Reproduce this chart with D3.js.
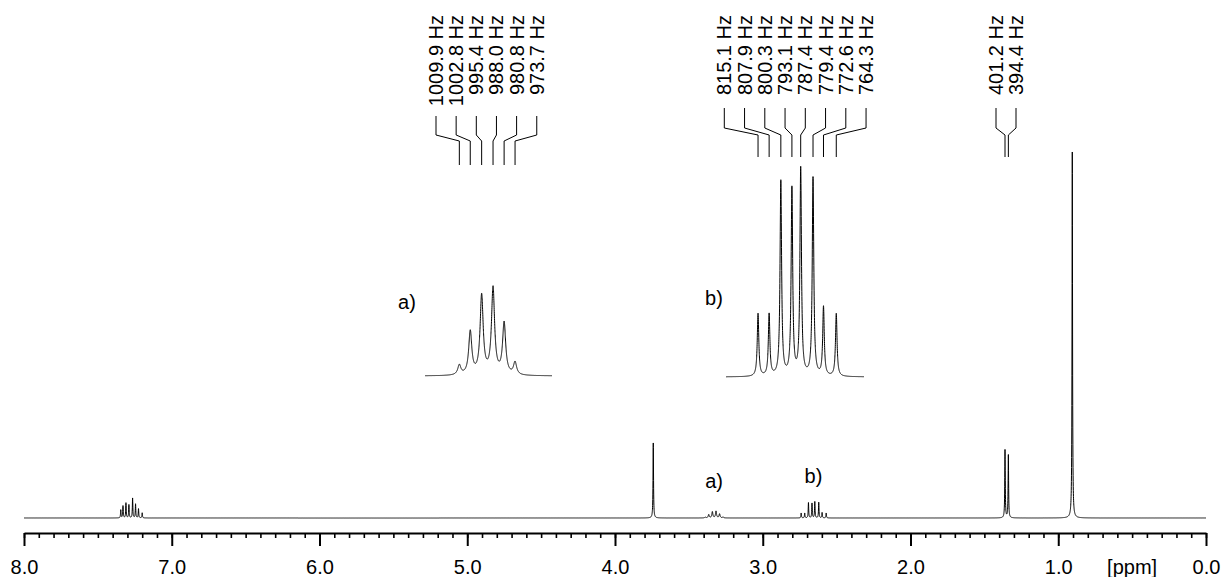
<!DOCTYPE html>
<html><head><meta charset="utf-8">
<script src="https://cdn.jsdelivr.net/npm/d3@7"></script>
<style>
body{margin:0;background:#fff;}
svg{display:block;}
text{font-family:"Liberation Sans",Arial,Helvetica,sans-serif;fill:#000;}
</style></head><body>
<svg id="c" width="1224" height="577"></svg>
<script>
// ---------------- data ----------------
const spectrometerMHz = 300;
const refOffsetPpm = 0.023;
const axisTicksMajor = [8, 7, 6, 5, 4, 3, 2, 1, 0];
const axisTickLabels = ["8.0", "7.0", "6.0", "5.0", "4.0", "3.0", "2.0", "1.0", "0.0"];
const unitLabel = "[ppm]";
const unitLabelPpm = 0.5;
const singletPpm = [3.741, 0.905];
const singletInt = [20.5, 100];
const aromaticPpm = [7.345, 7.33, 7.31, 7.29, 7.265, 7.245, 7.225, 7.20];
const aromaticInt = [2.2, 3.3, 4.1, 3.6, 5.4, 3.8, 2.5, 1.4];
const multAHz = [1009.9, 1002.8, 995.4, 988.0, 980.8, 973.7];
const multAInt = [0.21, 0.93, 1.70, 1.86, 1.11, 0.27];
const multBHz = [815.1, 807.9, 800.3, 793.1, 787.4, 779.4, 772.6, 764.3];
const multBInt = [1.35, 1.33, 4.19, 4.02, 4.45, 4.26, 1.48, 1.35];
const doubletHz = [401.2, 394.4];
const doubletInt = [18.6, 17.2];
const multLabels = ["a)", "b)"];

// ---------------- setup ----------------
const svg = d3.select("#c");
const hzToPpm = hz => hz / spectrometerMHz + refOffsetPpm;
const lor = (x, x0, a, w) => a / (1 + ((x - x0) / w) ** 2);

const x = d3.scaleLinear().domain([8, 0]).range([24, 1206]);
const y = d3.scaleLinear().domain([0, 100]).range([518, 152]);

// peak list for the full spectrum (ppm)
const peaks = [];
singletPpm.forEach((p, i) => peaks.push({c: p, a: singletInt[i], w: 0.6 / spectrometerMHz}));
aromaticPpm.forEach((p, i) => peaks.push({c: p, a: aromaticInt[i], w: 0.6 / spectrometerMHz}));
multAHz.forEach((h, i) => peaks.push({c: hzToPpm(h), a: multAInt[i], w: 1.2 / spectrometerMHz}));
multBHz.forEach((h, i) => peaks.push({c: hzToPpm(h), a: multBInt[i], w: 0.6 / spectrometerMHz}));
doubletHz.forEach((h, i) => peaks.push({c: hzToPpm(h), a: doubletInt[i], w: 0.6 / spectrometerMHz}));

const samples = d3.range(0, 8.00001, 0.0005);
peaks.forEach(p => samples.push(p.c));
samples.sort((a, b) => a - b);
const spec = samples.map(s => [s, d3.sum(peaks, p => lor(s, p.c, p.a, p.w))]);

svg.append("path")
  .attr("d", d3.line().x(d => x(d[0])).y(d => y(d[1]))(spec))
  .attr("fill", "none").attr("stroke", "#000").attr("stroke-width", 1);

// ---------------- axis ----------------
const axisY = 533;
const gMinor = svg.append("g").attr("transform", `translate(0,${axisY})`)
  .call(d3.axisBottom(x).tickValues(d3.range(0, 8.0001, 0.1)).tickSize(5).tickSizeOuter(0).tickFormat(""));
gMinor.select(".domain").attr("stroke-width", 2);
gMinor.selectAll(".tick line").attr("stroke-width", 1.6);

const gMajor = svg.append("g").attr("transform", `translate(0,${axisY})`)
  .call(d3.axisBottom(x).tickValues(axisTicksMajor).tickSize(13).tickSizeOuter(0).tickPadding(14)
    .tickFormat((d, i) => axisTickLabels[i]));
gMajor.select(".domain").remove();
gMajor.selectAll(".tick line").attr("stroke-width", 2);
gMajor.selectAll(".tick text").attr("font-size", 20)
  .style("font-family", '"Liberation Sans",Arial,sans-serif');

svg.append("text").attr("x", x(unitLabelPpm)).attr("y", axisY + 27).attr("dy", "0.71em")
  .attr("text-anchor", "middle").attr("font-size", 20).text(unitLabel);

// main multiplet labels
const aCenter = hzToPpm(d3.mean(multAHz)), bCenter = hzToPpm(d3.mean(multBHz));
svg.append("text").attr("x", x(aCenter)).attr("y", 488).attr("text-anchor", "middle")
  .attr("font-size", 20).text(multLabels[0]);
svg.append("text").attr("x", x(bCenter)).attr("y", 483).attr("text-anchor", "middle")
  .attr("font-size", 20).text(multLabels[1]);

// ---------------- insets ----------------
function inset(hz, ints, w, dom, rng, base, label, lx, ly) {
  const xs = d3.scaleLinear().domain(dom).range(rng);
  const ys = d3.scaleLinear().domain([0, 1]).range([base, base - 46.5]);
  const pts = d3.range(dom[1], dom[0] + 0.001, 0.04).concat(hz).sort((a, b) => a - b)
    .map(h => [h, d3.sum(hz, (c, i) => lor(h, c, ints[i], w))]);
  svg.append("path").attr("d", d3.line().x(d => xs(d[0])).y(d => ys(d[1]))(pts))
    .attr("fill", "none").attr("stroke", "#000").attr("stroke-width", 1);
  svg.append("text").attr("x", lx).attr("y", ly).attr("text-anchor", "middle")
    .attr("font-size", 20).text(label);
  return xs;
}
const xa = inset(multAHz, multAInt, 1.2, [1032.2, 949.7], [425, 552], 376, multLabels[0], 407, 309);
const xb = inset(multBHz, multBInt, 0.6, [835.9, 746.3], [726, 864], 377, multLabels[1], 714, 305);

// ---------------- peak labels ----------------
function labels(hz, x0, step, targetX, yTop, yA, yB, yBot) {
  hz.forEach((h, i) => {
    const cx = x0 + i * step, tx = targetX(h);
    svg.append("text").attr("transform", `translate(${cx},15) rotate(-90)`)
      .attr("text-anchor", "end").attr("dy", "0.35em").attr("font-size", 20)
      .text(`${h.toFixed(1)} Hz`);
    svg.append("path").attr("d", `M${cx},${yTop}V${yA}L${tx},${yB}V${yBot}`)
      .attr("fill", "none").attr("stroke", "#000").attr("stroke-width", 1);
  });
}
labels(multAHz, 436, 20.15, xa, 116, 135, 141, 165);
labels(multBHz, 724.3, 20.25, xb, 108, 128, 135, 157);
labels(doubletHz, 996, 20, h => x(hzToPpm(h)), 108, 128, 135, 157);
</script>
</body></html>
